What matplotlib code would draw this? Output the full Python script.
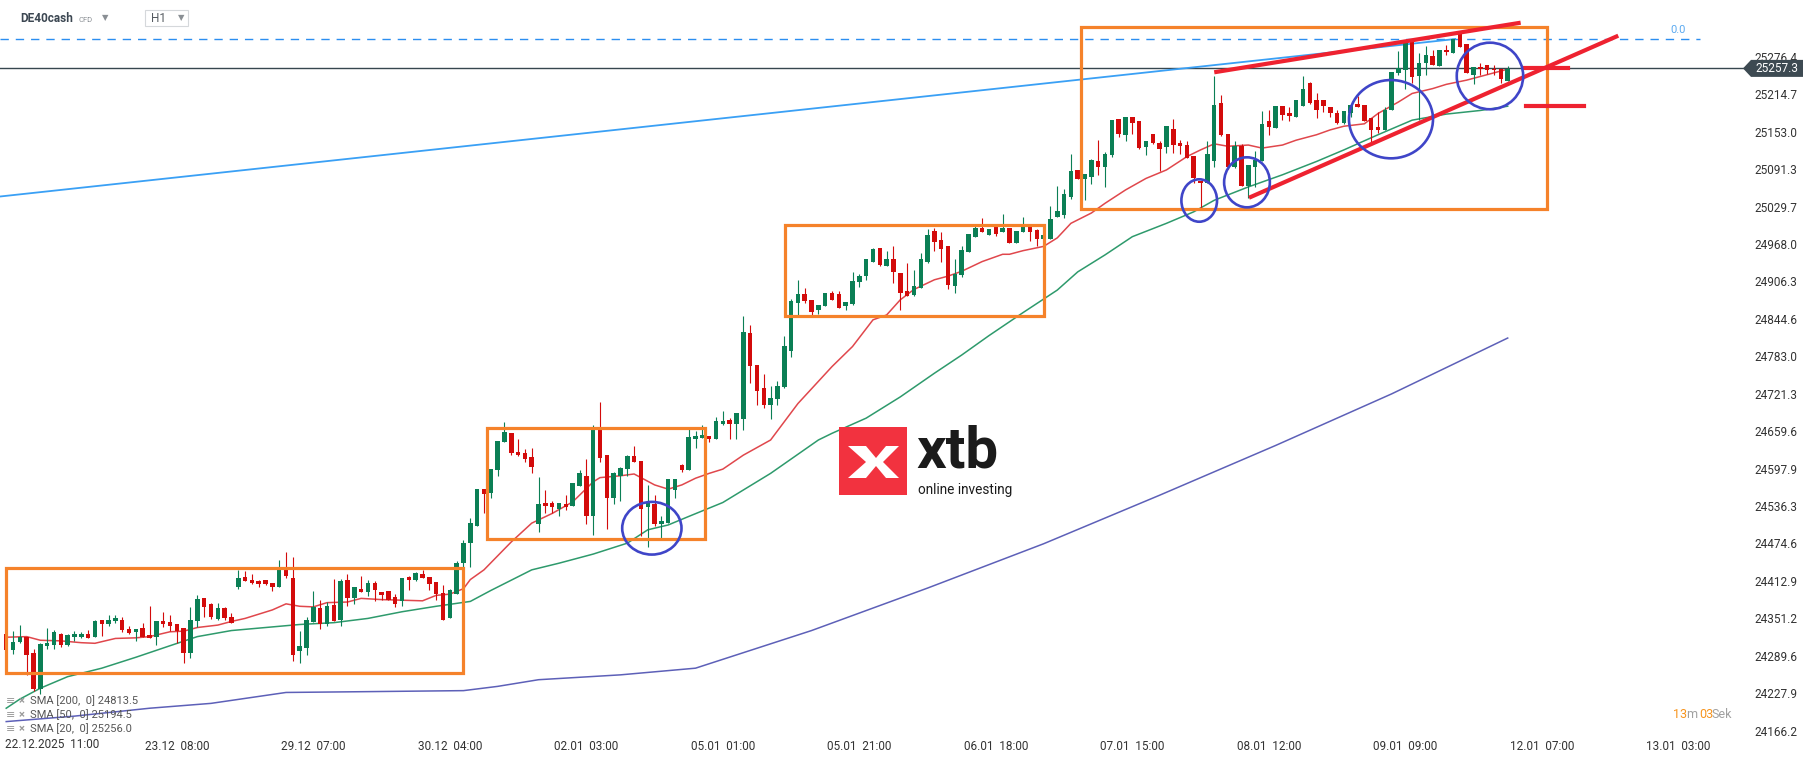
import numpy as np
import matplotlib.pyplot as plt
from matplotlib.patches import Rectangle, Ellipse, Polygon

plt.rcParams['font.family'] = ['Roboto', 'DejaVu Sans']

W, H = 1815, 761

# --- H1 candles, DE40cash ---
opens = [24326, 24299, 24312, 24320, 24294, 24235, 24306, 24307, 24326, 24307,
         24320, 24320, 24326, 24321, 24349, 24342, 24347, 24348, 24334, 24329,
         24335, 24323, 24320, 24347, 24345, 24342, 24335, 24294, 24346, 24384,
         24375, 24350, 24368, 24353, 24403, 24419, 24415, 24413, 24414, 24409,
         24403, 24432, 24417, 24298, 24303, 24345, 24368, 24342, 24373, 24349,
         24414, 24384, 24399, 24395, 24410, 24394, 24396, 24386, 24379, 24419,
         24414, 24424, 24419, 24411, 24393, 24351, 24392, 24442, 24475, 24504,
         24564, 24557, 24595, 24642, 24657, 24625, 24624, 24617, 24506, 24541,
         24541, 24531, 24540, 24537, 24570, 24586, 24520, 24663, 24620, 24550,
         24586, 24598, 24619, 24610, 24534, 24540, 24507, 24509, 24563, 24604,
         24596, 24647, 24649, 24652, 24647, 24671, 24678, 24671, 24680, 24821,
         24769, 24731, 24703, 24713, 24732, 24792, 24871, 24886, 24876, 24859,
         24865, 24888, 24885, 24865, 24869, 24905, 24916, 24939, 24961, 24932,
         24944, 24920, 24890, 24884, 24895, 24939, 24989, 24975, 24965, 24899,
         24917, 24955, 24980, 24995, 24983, 24997, 24987, 24995, 24969, 24988,
         24997, 24991, 24977, 24977, 25012, 25015, 25046, 25090, 25075, 25079,
         25105, 25095, 25114, 25174, 25148, 25177, 25171, 25127, 25149, 25134,
         25127, 25157, 25135, 25131, 25113, 25072, 25068, 25104, 25200, 25149,
         25095, 25130, 25064, 25094, 25104, 25170, 25159, 25195, 25183, 25178,
         25196, 25234, 25205, 25206, 25193, 25184, 25167, 25184, 25199, 25197,
         25176, 25161, 25156, 25189, 25249, 25255, 25301, 25244, 25267, 25278,
         25262, 25288, 25282, 25315, 25297, 25246, 25260, 25263, 25257, 25257,
         25237]
highs = [24326, 24331, 24340, 24320, 24300, 24310, 24335, 24332, 24327, 24325,
         24330, 24329, 24332, 24349, 24349, 24356, 24357, 24353, 24339, 24334,
         24343, 24371, 24347, 24362, 24356, 24342, 24335, 24369, 24390, 24384,
         24377, 24377, 24369, 24360, 24431, 24429, 24424, 24415, 24415, 24409,
         24448, 24460, 24452, 24330, 24353, 24396, 24381, 24378, 24416, 24416,
         24424, 24403, 24421, 24414, 24412, 24394, 24396, 24391, 24418, 24421,
         24428, 24430, 24419, 24411, 24406, 24400, 24446, 24480, 24516, 24565,
         24564, 24597, 24643, 24675, 24657, 24647, 24630, 24631, 24584, 24563,
         24544, 24541, 24554, 24574, 24596, 24614, 24670, 24708, 24620, 24593,
         24601, 24620, 24635, 24610, 24571, 24554, 24520, 24580, 24580, 24606,
         24663, 24659, 24670, 24652, 24683, 24693, 24681, 24689, 24849, 24834,
         24769, 24754, 24734, 24742, 24817, 24877, 24909, 24895, 24876, 24867,
         24888, 24891, 24891, 24872, 24922, 24919, 24943, 24961, 24961, 24956,
         24965, 24920, 24936, 24925, 24953, 24993, 24995, 24987, 24965, 24943,
         24964, 24984, 24998, 25011, 24992, 24997, 25017, 24995, 24990, 25013,
         24997, 24992, 24984, 25031, 25063, 25059, 25116, 25090, 25083, 25108,
         25139, 25120, 25172, 25174, 25177, 25177, 25171, 25137, 25149, 25137,
         25162, 25174, 25139, 25138, 25113, 25072, 25138, 25245, 25213, 25149,
         25137, 25132, 25098, 25121, 25187, 25189, 25195, 25196, 25193, 25205,
         25245, 25235, 25216, 25206, 25193, 25188, 25187, 25197, 25211, 25197,
         25176, 25186, 25193, 25251, 25286, 25300, 25301, 25282, 25294, 25288,
         25288, 25296, 25305, 25318, 25297, 25260, 25267, 25263, 25263, 25257,
         25261]
lows = [24299, 24293, 24310, 24257, 24232, 24226, 24300, 24300, 24304, 24306,
        24314, 24318, 24319, 24320, 24322, 24339, 24344, 24329, 24326, 24313,
        24320, 24319, 24308, 24337, 24331, 24311, 24278, 24286, 24337, 24353,
        24350, 24349, 24349, 24343, 24399, 24412, 24408, 24402, 24406, 24396,
        24403, 24418, 24281, 24278, 24291, 24345, 24334, 24339, 24347, 24339,
        24372, 24375, 24394, 24388, 24380, 24381, 24381, 24370, 24372, 24398,
        24413, 24418, 24398, 24381, 24349, 24351, 24392, 24435, 24435, 24504,
        24525, 24550, 24586, 24642, 24620, 24619, 24609, 24590, 24494, 24525,
        24525, 24519, 24529, 24537, 24570, 24507, 24489, 24608, 24499, 24539,
        24544, 24586, 24608, 24486, 24468, 24503, 24484, 24509, 24549, 24593,
        24596, 24631, 24649, 24641, 24647, 24669, 24646, 24646, 24661, 24739,
        24702, 24697, 24680, 24703, 24730, 24782, 24851, 24871, 24851, 24853,
        24865, 24876, 24863, 24859, 24867, 24897, 24909, 24939, 24932, 24932,
        24903, 24860, 24883, 24882, 24895, 24936, 24957, 24938, 24894, 24888,
        24913, 24955, 24980, 24987, 24983, 24981, 24987, 24969, 24969, 24987,
        24973, 24965, 24977, 24977, 25012, 25011, 25042, 25075, 25040, 25066,
        25082, 25062, 25111, 25144, 25137, 25149, 25124, 25114, 25132, 25089,
        25118, 25118, 25117, 25110, 25068, 25028, 25068, 25095, 25146, 25091,
        25093, 25063, 25043, 25062, 25104, 25148, 25159, 25172, 25171, 25178,
        25196, 25198, 25176, 25186, 25178, 25165, 25165, 25178, 25193, 25171,
        25135, 25151, 25156, 25189, 25246, 25224, 25233, 25172, 25246, 25263,
        25262, 25279, 25282, 25292, 25249, 25231, 25246, 25248, 25246, 25234,
        25237]
closes = [24299, 24312, 24320, 24291, 24235, 24309, 24310, 24329, 24307, 24324,
          24325, 24325, 24319, 24347, 24342, 24348, 24352, 24332, 24327, 24334,
          24320, 24319, 24347, 24342, 24338, 24330, 24294, 24348, 24383, 24370,
          24354, 24368, 24351, 24344, 24418, 24412, 24410, 24408, 24407, 24402,
          24432, 24421, 24291, 24306, 24348, 24370, 24342, 24371, 24347, 24413,
          24385, 24403, 24394, 24409, 24398, 24390, 24381, 24375, 24418, 24414,
          24426, 24418, 24408, 24391, 24349, 24398, 24442, 24475, 24508, 24565,
          24556, 24597, 24643, 24658, 24623, 24621, 24614, 24601, 24539, 24537,
          24535, 24541, 24535, 24574, 24591, 24520, 24663, 24616, 24550, 24591,
          24599, 24619, 24608, 24532, 24541, 24506, 24512, 24580, 24580, 24596,
          24650, 24652, 24653, 24647, 24676, 24677, 24671, 24689, 24823, 24767,
          24726, 24702, 24714, 24734, 24800, 24874, 24886, 24874, 24856, 24867,
          24888, 24876, 24863, 24872, 24907, 24916, 24943, 24959, 24933, 24944,
          24921, 24888, 24883, 24899, 24943, 24983, 24972, 24960, 24900, 24919,
          24958, 24984, 24995, 24988, 24992, 24984, 24995, 24969, 24990, 24997,
          24988, 24976, 24982, 25009, 25023, 25050, 25088, 25075, 25083, 25106,
          25095, 25116, 25172, 25150, 25177, 25168, 25126, 25137, 25134, 25125,
          25162, 25131, 25129, 25110, 25076, 25068, 25117, 25197, 25148, 25095,
          25129, 25063, 25098, 25106, 25166, 25161, 25195, 25180, 25179, 25205,
          25223, 25200, 25189, 25195, 25184, 25167, 25187, 25197, 25193, 25171,
          25156, 25156, 25189, 25251, 25258, 25300, 25243, 25267, 25280, 25263,
          25288, 25284, 25305, 25292, 25249, 25260, 25257, 25255, 25254, 25240,
          25257]

# --- moving averages (bar index, value) ---
sma20_bar = [0, 3, 5, 8, 11, 13, 16, 19, 21, 24, 26, 28, 31, 33, 35, 39, 41, 43, 45, 47,
             50, 52, 55, 58, 61, 63, 65, 67, 68, 70, 74, 77, 80, 83, 86, 87, 90, 92, 93, 95,
             97, 99, 101, 103, 105, 108, 112, 116, 121, 124, 127, 129, 131, 133, 136, 138, 140,
             143, 146, 147, 149, 152, 154, 156, 159, 161, 164, 167, 170, 173, 175, 177, 179,
             182, 184, 187, 189, 192, 194, 196, 199, 201, 204, 206, 209, 211, 214, 216, 218, 220]
sma20_val = [24320, 24321, 24315, 24314, 24311, 24310, 24318, 24319, 24321, 24329, 24330,
             24336, 24340, 24346, 24351, 24365, 24375, 24371, 24370, 24377, 24378, 24384,
             24382, 24381, 24380, 24389, 24391, 24400, 24415, 24431, 24477, 24508, 24524,
             24543, 24576, 24583, 24586, 24589, 24583, 24571, 24564, 24571, 24582, 24590,
             24597, 24620, 24645, 24705, 24766, 24799, 24843, 24851, 24876, 24893, 24909,
             24915, 24923, 24939, 24951, 24951, 24957, 24964, 24978, 25002, 25019, 25035,
             25057, 25076, 25090, 25112, 25123, 25133, 25129, 25131, 25126, 25131, 25139,
             25148, 25156, 25162, 25166, 25183, 25202, 25216, 25224, 25231, 25238, 25244,
             25250, 25256]
sma50_bar = [0, 2, 5, 9, 14, 19, 24, 28, 33, 38, 43, 48, 53, 58, 63, 68, 71, 77, 81, 86,
             91, 94, 97, 100, 105, 112, 119, 121, 126, 131, 136, 140, 144, 149, 154, 157, 161,
             165, 170, 174, 177, 182, 187, 192, 196, 201, 206, 211, 216, 220]
sma50_val = [24203, 24218, 24236, 24255, 24269, 24287, 24306, 24321, 24331, 24336, 24341,
             24344, 24351, 24362, 24371, 24379, 24397, 24431, 24442, 24457, 24475, 24497,
             24505, 24519, 24542, 24590, 24645, 24656, 24681, 24716, 24755, 24785, 24817,
             24855, 24892, 24922, 24950, 24980, 25002, 25021, 25040, 25062, 25082, 25104,
             25123, 25148, 25172, 25182, 25188, 25195]
sma200_bar = [0, 10, 21, 30, 41, 50, 67, 72, 78, 90, 101, 118, 135, 152, 169, 186, 203, 220]
sma200_val = [24181, 24190, 24203, 24211, 24229, 24230, 24232, 24239, 24250, 24258, 24269,
              24331, 24401, 24474, 24554, 24636, 24721, 24813]

price_ticks = [25276.4, 25214.7, 25153.0, 25091.3, 25029.7, 24968.0, 24906.3, 24844.6,
               24783.0, 24721.3, 24659.6, 24597.9, 24536.3, 24474.6, 24412.9, 24351.2,
               24289.6, 24227.9, 24166.2]
time_ticks = [25, 45, 65, 85, 105, 125, 145, 165, 185, 205, 225, 245]
time_labels = ["23.12  08:00", "29.12  07:00", "30.12  04:00", "02.01  03:00",
               "05.01  01:00", "05.01  21:00", "06.01  18:00", "07.01  15:00",
               "08.01  12:00", "09.01  09:00", "12.01  07:00", "13.01  03:00"]
last_price = 25257.3
fib_level = 25305.7

GREEN = "#0b7f55"
RED = "#d30b0b"
ORANGE = "#f5822a"
TREND = "#ee2230"
CIRCLE = "#3f45c8"


def fx(px):
    return px / W


def fy(py):
    return 1 - py / H


fig = plt.figure(figsize=(W / 100, H / 100), dpi=100)
ax = fig.add_axes([0, fy(737), fx(1745), 737 / H])
ax.set_xlim(-0.91, 254.77)
ax.set_ylim(24155.6, 25370.0)
for s in ax.spines.values():
    s.set_visible(False)

# moving averages
ax.plot(sma200_bar, sma200_val, color="#5d60b8", lw=1.1, zorder=2)
ax.plot(sma50_bar, sma50_val, color="#2e9a6c", lw=1.1, zorder=2)
ax.plot(sma20_bar, sma20_val, color="#e0474c", lw=1.1, zorder=2)

# candles
o = np.array(opens, float)
h = np.array(highs, float)
l = np.array(lows, float)
c = np.array(closes, float)
idx = np.arange(len(c))
col = np.where(c >= o, GREEN, RED)
ax.vlines(idx, l, h, colors=col, lw=0.8, zorder=3)
ax.bar(idx, np.maximum(np.abs(c - o), 1.6), bottom=np.minimum(o, c), width=0.66,
       color=col, lw=0, zorder=3)

# horizontal levels / trendlines
ax.axhline(last_price, color="#37474f", lw=1.0, zorder=2)
ax.plot([-0.91, 248.2], [fib_level, fib_level], color="#2b8ef0", lw=1.0,
        dashes=(6, 5), zorder=2)
ax.text(244.9, 25320.6, "0.0", color="#5aa9f0", fontsize=8, ha="center", va="center")
ax.plot([-0.91, 212.3], [25046.2, 25305.7], color="#3aa0f5", lw=1.3, zorder=2)

for x0, x1, p0, p1 in [(-0.03, 66.93, 24261.0, 24434.0), (70.4, 102.4, 24481.8, 24664.3),
                       (114.1, 152.1, 24849.3, 24998.8), (157.5, 225.7, 25025.1, 25324.7)]:
    ax.add_patch(Rectangle((x0, p0), x1 - x0, p1 - p0, fill=False, ec=ORANGE, lw=2.3,
                           zorder=4, clip_on=False))

ax.plot([177.0, 221.9], [25250.9, 25332.6], color=TREND, lw=3.0, zorder=5,
        solid_capstyle="butt")
ax.plot([182.1, 236.2], [25044.2, 25311.2], color=TREND, lw=3.0, zorder=5,
        solid_capstyle="butt")
ax.plot([222.4, 228.8], [25257.5, 25257.5], color=TREND, lw=3.0, zorder=5)
ax.plot([222.7, 231.2], [25194.8, 25194.8], color=TREND, lw=3.0, zorder=5)

for cx, cy, ew, eh in [(174.8, 25039.6, 5.22, 69.9), (181.8, 25069.6, 6.70, 82.4),
                       (202.9, 25173.6, 12.31, 129.0), (217.4, 25244.8, 9.73, 109.7),
                       (94.6, 24499.6, 8.69, 86.8)]:
    ax.add_patch(Ellipse((cx, cy), ew, eh, fill=False, ec=CIRCLE, lw=1.9, zorder=5))

# axes labels
ax.yaxis.tick_right()
ax.set_yticks(price_ticks, [f"{v:.1f}" for v in price_ticks])
ax.tick_params(axis="y", length=0, pad=7, labelsize=8.5, labelcolor="#333333")
ax.set_xticks(time_ticks, time_labels)
ax.tick_params(axis="x", length=0, pad=2, labelsize=8.5, labelcolor="#333333")
fig.text(fx(5), fy(744), "22.12.2025  11:00", fontsize=8.5, color="#333333",
         ha="left", va="center")

# current price tag
yp = (25370.0 - last_price) / 1.6478
fig.add_artist(Polygon([(fx(1743), fy(yp)), (fx(1751), fy(yp - 8.5)), (fx(1803), fy(yp - 8.5)),
                        (fx(1803), fy(yp + 8.5)), (fx(1751), fy(yp + 8.5))],
                       closed=True, fc="#3d4a52", ec="none", transform=fig.transFigure))
fig.text(fx(1777), fy(yp), f"{last_price:.1f}", color="white", fontsize=8.5,
         ha="center", va="center")

# header
fig.text(fx(20), fy(19), "DE40cash", fontsize=8.5, weight="bold", color="#3c4752", va="center")
fig.text(fx(79), fy(20), "CFD", fontsize=5.5, color="#8a8f94", va="center")
fig.text(fx(105), fy(18), "▼", fontsize=6, color="#8a8f94", va="center", ha="center")
fig.add_artist(Rectangle((fx(145), fy(26)), fx(43), 16 / H, fill=False, ec="#d5d8db",
                         lw=0.8, transform=fig.transFigure))
fig.text(fx(151), fy(19), "H1", fontsize=8.5, color="#555b61", va="center")
fig.text(fx(181), fy(18), "▼", fontsize=6, color="#8a8f94", va="center", ha="center")

# SMA legend
for i, txt in enumerate(["SMA [200,  0] 24813.5", "SMA [50,  0] 25194.5",
                         "SMA [20,  0] 25256.0"]):
    yy = 701 + 14 * i
    fig.text(fx(6), fy(yy), "≡", fontsize=8, color="#9a9a9a", va="center")
    fig.text(fx(19), fy(yy), "×", fontsize=8, color="#9a9a9a", va="center", weight="bold")
    fig.text(fx(30), fy(yy), txt, fontsize=8, color="#555555", va="center")

# countdown
fig.text(fx(1673), fy(715), "13", fontsize=9, color="#f7941d", va="center")
fig.text(fx(1686), fy(715), "m", fontsize=9, color="#a0a0a0", va="center")
fig.text(fx(1699), fy(715), "03", fontsize=9, color="#f7941d", va="center")
fig.text(fx(1712), fy(715), "Sek", fontsize=9, color="#a0a0a0", va="center")

# logo
fig.add_artist(Rectangle((fx(839), fy(495)), fx(68), 68 / H, fc="#f2323f", ec="none",
                         transform=fig.transFigure))
fig.add_artist(Polygon([(fx(848), fy(446)), (fx(866), fy(446)), (fx(876), fy(458)),
                        (fx(886), fy(446)), (fx(899), fy(446)), (fx(883), fy(462)),
                        (fx(899), fy(478)), (fx(886), fy(478)), (fx(876), fy(466)),
                        (fx(866), fy(478)), (fx(848), fy(478)), (fx(866), fy(462))],
                       closed=True, fc="white", ec="none", transform=fig.transFigure))
fig.text(fx(916), fy(467), "xtb", fontsize=42, weight="bold", color="#1b1b1b",
         va="baseline")
fig.text(fx(918), fy(490), "online investing", fontsize=9.8, color="#1b1b1b", va="center")

fig.savefig("out.png", dpi=100)
